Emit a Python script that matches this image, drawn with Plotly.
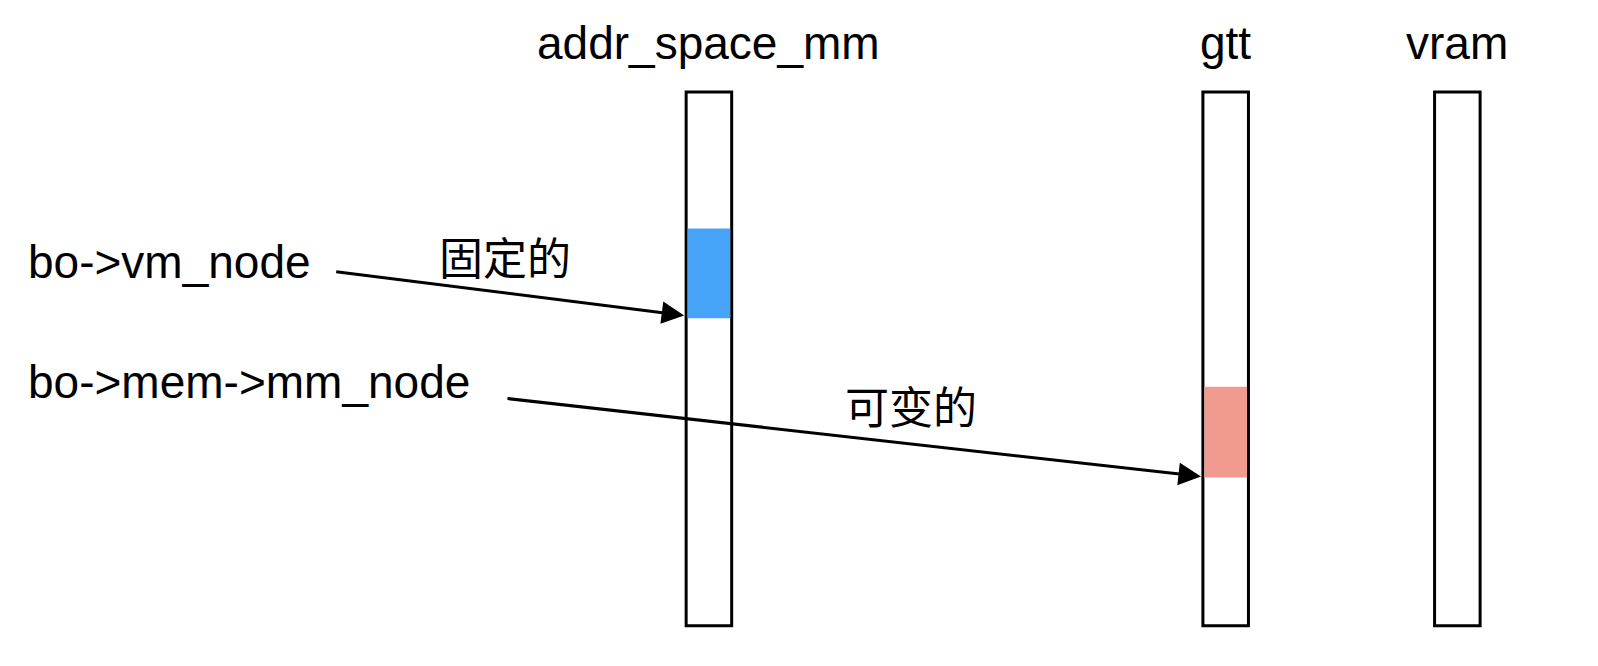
import plotly.graph_objects as go

# columns of the diagram (pixel-like coordinates, y grows downward)
col_names = ["addr_space_mm", "gtt", "vram"]
col_left = [685, 1207, 1441]
col_width = 46
col_top, col_bottom = 86, 633

# allocated blocks: (column index, top, bottom, colour)
block_col = [0, 1]
block_top = [226, 388]
block_bottom = [318, 481]
block_color = ["#46a3f8", "#f19b90"]

# pointers
ptr_labels = ["bo->vm_node", "bo->mem->mm_node"]
ptr_label_y = [260, 383]
ptr_start = [(330, 270), (503, 400)]
ptr_end = [(683, 315), (1205, 480)]
ptr_notes = ["固定的", "可变的"]
ptr_note_xy = [(502, 258), (912, 410)]

font = "Helvetica, Arial, 'Liberation Sans', 'Noto Sans CJK SC', sans-serif"

fig = go.Figure()
fig.add_trace(go.Scatter(x=[0, 1598], y=[0, 666], mode="markers",
                         marker=dict(opacity=0), hoverinfo="skip", showlegend=False))

for i, name in enumerate(col_names):
    x0 = col_left[i]
    fig.add_shape(type="rect", x0=x0, x1=x0 + col_width, y0=col_top, y1=col_bottom,
                  line=dict(color="black", width=3), fillcolor="white", layer="below")
    fig.add_annotation(x=x0 + col_width / 2, y=36, text=name, showarrow=False,
                       font=dict(size=46, color="black", family=font))

for c, t, b, color in zip(block_col, block_top, block_bottom, block_color):
    x0 = col_left[c]
    fig.add_shape(type="rect", x0=x0 + 1.5, x1=x0 + col_width - 1.5, y0=t, y1=b,
                  line=dict(width=0), fillcolor=color)

for lab, ly, s, e, note, nxy in zip(ptr_labels, ptr_label_y, ptr_start, ptr_end,
                                    ptr_notes, ptr_note_xy):
    fig.add_annotation(x=18, y=ly, text=lab, showarrow=False, xanchor="left",
                       font=dict(size=46, color="black", family=font))
    fig.add_annotation(x=e[0], y=e[1], ax=s[0], ay=s[1], axref="x", ayref="y",
                       xref="x", yref="y", text="", showarrow=True,
                       arrowhead=2, arrowsize=1.5, arrowwidth=3, arrowcolor="black")
    fig.add_annotation(x=nxy[0], y=nxy[1], text=note, showarrow=False,
                       font=dict(size=44, color="black", family=font))

fig.update_layout(width=1582, height=650, margin=dict(l=0, r=0, t=0, b=0),
                  plot_bgcolor="white", paper_bgcolor="white",
                  xaxis=dict(range=[0, 1598], visible=False, fixedrange=True),
                  yaxis=dict(range=[666, 0], visible=False, fixedrange=True))

fig.write_html("out.html")
